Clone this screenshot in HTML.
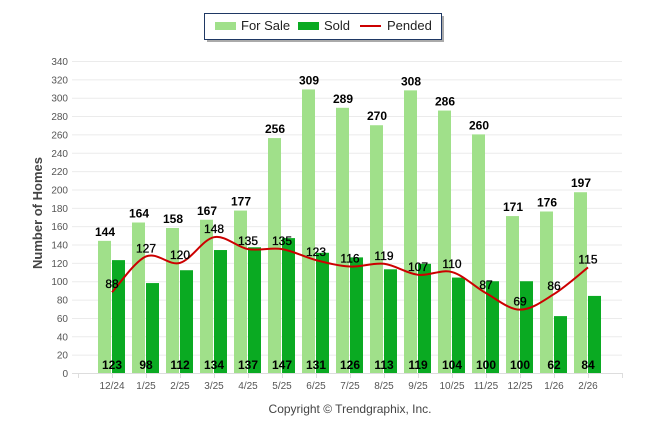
<!DOCTYPE html>
<html><head><meta charset="utf-8"><style>
body{margin:0;background:#fff;font-family:"Liberation Sans",Arial,sans-serif}
svg text{font-family:"Liberation Sans",Arial,sans-serif}
</style></head><body>
<svg id="chart" width="646" height="434">
<g>
<rect x="207" y="16" width="237" height="26" fill="#555" opacity="0.5"/>
<rect x="204.5" y="13.5" width="237" height="26" fill="#fff" stroke="#1f3864" stroke-width="1"/>
<rect x="215" y="22" width="21" height="8" fill="#a0e08a"/>
<text x="241" y="30" font-size="13" fill="#222">For Sale</text>
<rect x="298" y="22" width="21" height="8" fill="#0aaa22"/>
<text x="324" y="30" font-size="13" fill="#222">Sold</text>
<line x1="360" y1="26" x2="381" y2="26" stroke="#cc0000" stroke-width="2"/>
<text x="387" y="30" font-size="13" fill="#222">Pended</text>
</g>
<text transform="translate(42,213) rotate(-90)" text-anchor="middle" font-size="13" font-weight="bold" fill="#444">Number of Homes</text>
<g id="grid"></g><g id="bars"></g><g id="line"></g><g id="labels"></g>
<text x="350" y="413" text-anchor="middle" font-size="12" fill="#444">Copyright © Trendgraphix, Inc.</text>
</svg>
<script>
const categories=["12/24","1/25","2/25","3/25","4/25","5/25","6/25","7/25","8/25","9/25","10/25","11/25","12/25","1/26","2/26"];
const forSale=[144,164,158,167,177,256,309,289,270,308,286,260,171,176,197];
const sold=[123,98,112,134,137,147,131,126,113,119,104,100,100,62,84];
const pended=[88,127,120,148,135,135,123,116,119,107,110,87,69,86,115];
const yTicks=[0,20,40,60,80,100,120,140,160,180,200,220,240,260,280,300,320,340];
const NS="http://www.w3.org/2000/svg";
const y0=373,yTop=61,yMax=340,x0=78,step=34;
const Y=v=>y0-(v/yMax)*(y0-yTop);
const X=i=>x0+step*(i+1);
function mk(tag,attrs,parent,txt){const e=document.createElementNS(NS,tag);for(const k in attrs)e.setAttribute(k,attrs[k]);if(txt!==undefined)e.textContent=txt;parent.appendChild(e);return e;}
const grid=document.getElementById('grid'),bars=document.getElementById('bars'),line=document.getElementById('line'),labels=document.getElementById('labels');
yTicks.forEach(t=>{
 const l=mk('line',{x1:72,x2:622,y1:Y(t)+0.5,y2:Y(t)+0.5,stroke:t===0?'#ddd':'#ebebeb','stroke-width':1},grid);
 
 
 const tx=mk('text',{x:68,y:Y(t)+4,'text-anchor':'end','font-size':10,fill:'#555'},grid,t);
 
 
});
for(let i=0;i<=categories.length+1;i++){mk('line',{x1:x0+step*i+0.5,x2:x0+step*i+0.5,y1:y0,y2:y0+5,stroke:'#ddd'},grid);}
categories.forEach((c,i)=>{
 const cx=X(i);
 const r1=mk('rect',{x:cx-14,y:Y(forSale[i]),width:13,height:y0-Y(forSale[i]),fill:'#a0e08a'},bars);
 
 
 const r2=mk('rect',{x:cx,y:Y(sold[i]),width:13,height:y0-Y(sold[i]),fill:'#0aaa22'},bars);
 
 
 const t1=mk('text',{x:cx-7,y:Y(forSale[i])-5,'text-anchor':'middle','font-size':12,'font-weight':'bold',fill:'#000'},labels,forSale[i]);
 
 
 const t2=mk('text',{x:cx,y:369,'text-anchor':'middle','font-size':12,'font-weight':'bold',fill:'#000'},labels,sold[i]);
 
 
 const t3=mk('text',{x:cx,y:Y(pended[i])-4,'text-anchor':'middle','font-size':12,fill:'#000',stroke:'#000','stroke-width':0.3},labels,pended[i]);
 
 
 const xl=mk('text',{x:cx,y:389,'text-anchor':'middle','font-size':10,fill:'#555'},grid,c);
 
 
});
const pts=pended.map((v,i)=>[X(i),Y(v)]);
let d='M'+pts[0][0]+','+pts[0][1];
for(let i=0;i<pts.length-1;i++){
 const p0=pts[Math.max(0,i-1)],p1=pts[i],p2=pts[i+1],p3=pts[Math.min(pts.length-1,i+2)];
 const c1=[p1[0]+(p2[0]-p0[0])/6,p1[1]+(p2[1]-p0[1])/6],c2=[p2[0]-(p3[0]-p1[0])/6,p2[1]-(p3[1]-p1[1])/6];
 d+=' C'+c1.join(',')+' '+c2.join(',')+' '+p2.join(',');
}
const pl=mk('path',{d:d,fill:'none',stroke:'#cc0000','stroke-width':2},line);


</script>
</body></html>
